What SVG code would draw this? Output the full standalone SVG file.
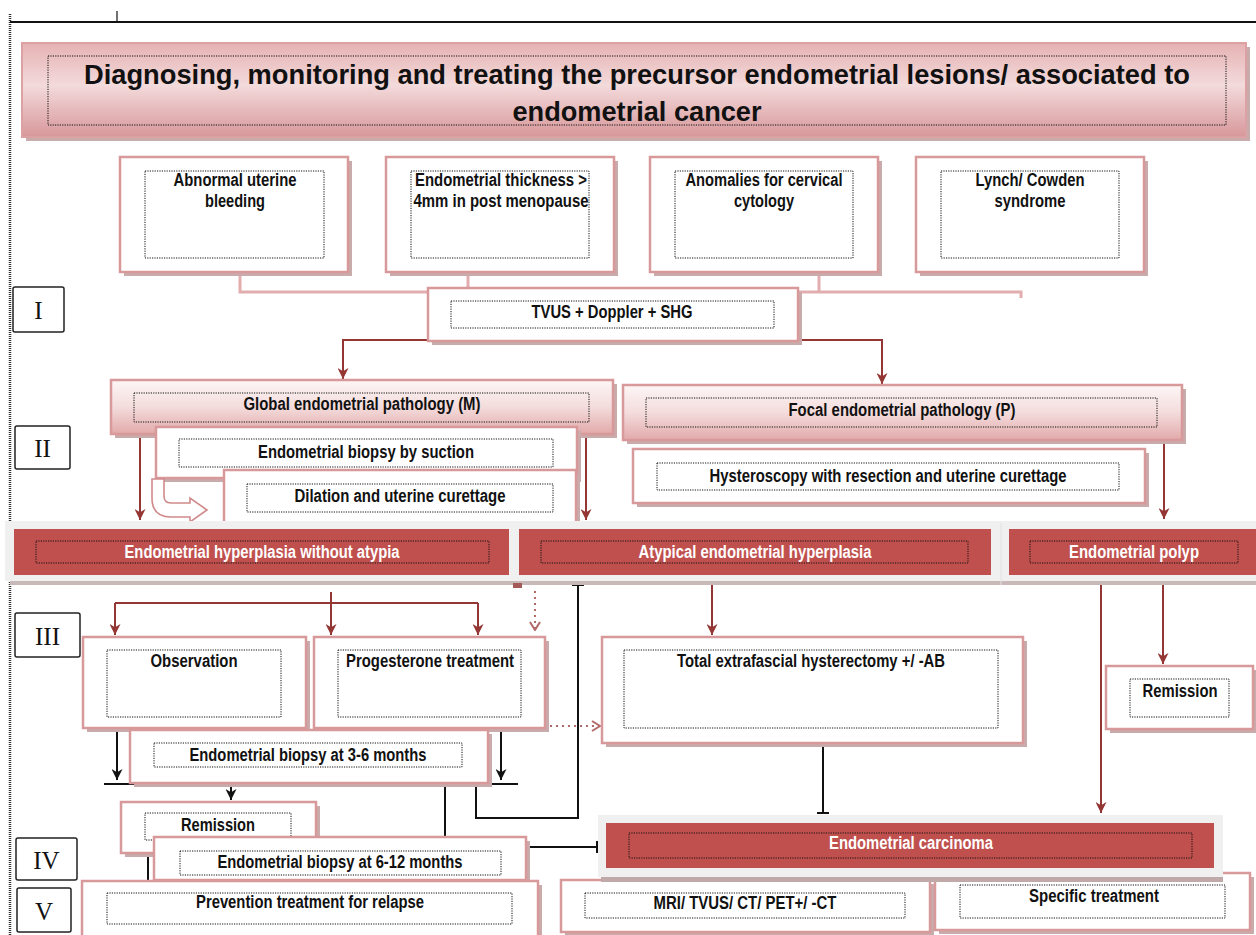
<svg xmlns="http://www.w3.org/2000/svg" width="1256" height="935" viewBox="0 0 1256 935">
<style>
.t{font-family:"Liberation Sans",Arial,sans-serif;font-weight:bold;font-size:17.5px;text-anchor:middle;fill:#111}
.w{fill:#fff}
.title{font-size:28px}
.rn{font-family:"Liberation Serif","Times New Roman",serif;font-size:25px;text-anchor:middle;fill:#111}
.box{fill:#fff;stroke:#d8999a;stroke-width:2.5}
.sh{fill:#c9abab}
.dot{fill:none;stroke:#111;stroke-width:1;stroke-dasharray:1.2 1.2}
.red{fill:#c0504d}
.gb{fill:#f0f0f0}
.rb{fill:#fff;stroke:#222;stroke-width:1.5}
.pk{fill:none;stroke:#e2adae;stroke-width:3}
.mr{fill:none;stroke:#943634;stroke-width:2}
.bk{fill:none;stroke:#111;stroke-width:2}
.md{fill:none;stroke:#b26a69;stroke-width:2;stroke-dasharray:2 4}
</style>
<defs>
<linearGradient id="gT" x1="0" y1="0" x2="0" y2="1">
<stop offset="0" stop-color="#e6b2b3"/><stop offset="0.45" stop-color="#f3dadb"/><stop offset="1" stop-color="#d8979a"/>
</linearGradient>
<linearGradient id="gP" x1="0" y1="0" x2="0" y2="1">
<stop offset="0" stop-color="#fdf6f6"/><stop offset="0.5" stop-color="#f4dcdc"/><stop offset="1" stop-color="#e2a9aa"/>
</linearGradient>
<marker id="aM" viewBox="0 0 10 10" refX="10" refY="5" markerWidth="11" markerHeight="11" markerUnits="userSpaceOnUse" orient="auto"><path d="M0,0 L10,5 L0,10 L3,5 z" fill="#943634"/></marker>
<marker id="aK" viewBox="0 0 10 10" refX="10" refY="5" markerWidth="11" markerHeight="11" markerUnits="userSpaceOnUse" orient="auto"><path d="M0,0 L10,5 L0,10 L3,5 z" fill="#111"/></marker>
<marker id="tK" viewBox="0 0 2 12" refX="1" refY="6" markerWidth="2" markerHeight="12" markerUnits="userSpaceOnUse" orient="auto"><path d="M1,0 V12" stroke="#111" stroke-width="2"/></marker>
<marker id="cM" viewBox="0 0 10 12" refX="9" refY="6" markerWidth="10" markerHeight="12" markerUnits="userSpaceOnUse" orient="auto"><path d="M1,1 L9,6 L1,11" fill="none" stroke="#b26a69" stroke-width="2"/></marker>
</defs>
<rect width="1256" height="935" fill="#fff"/>
<g id="frame">
<path d="M10,14 V935" stroke="#333" stroke-width="2.5" stroke-dasharray="1 1"/>
<path d="M10,22 H1256" stroke="#111" stroke-width="2"/>
<path d="M117,11 V22" stroke="#111" stroke-width="1.2"/>
</g>
<g id="connectors">
<path class="pk" d="M240,274 V292 H1021 V298"/>
<path class="pk" d="M468,274 V292"/>
<path class="pk" d="M819,274 V292"/>
<path class="mr" d="M428,340 H343 V379" marker-end="url(#aM)"/>
<path class="mr" d="M798,340 H882 V384" marker-end="url(#aM)"/>
<path class="mr" d="M140,437 V520" marker-end="url(#aM)"/>
<path class="mr" d="M586,437 V520" marker-end="url(#aM)"/>
<path class="mr" d="M1164,442 V519" marker-end="url(#aM)"/>
<path class="mr" d="M115,603 H478"/>
<path class="mr" d="M115,603 V635" marker-end="url(#aM)"/>
<path class="mr" d="M478,603 V635" marker-end="url(#aM)"/>
<path class="mr" d="M331,592 V635" marker-end="url(#aM)"/>
<path class="mr" d="M712,584 V635" marker-end="url(#aM)"/>
<path class="mr" d="M1163,584 V664" marker-end="url(#aM)"/>
<path class="mr" d="M1101,584 V813" marker-end="url(#aM)"/>
<path class="md" d="M535,591 V630" marker-end="url(#cM)"/>
<path class="md" d="M550,726 H600" marker-end="url(#cM)"/>
<path class="bk" d="M117,731 V780" marker-end="url(#aK)"/>
<path class="bk" d="M501,731 V780" marker-end="url(#aK)"/>
<path class="bk" d="M104,784 H518"/>
<path class="bk" d="M231,784 V800" marker-end="url(#aK)"/>
<path class="bk" d="M445,784 V838"/>
<path class="bk" d="M476,784 V818 H578 V585" marker-end="url(#tK)"/>
<path class="bk" d="M148,853 V882"/>
<path class="bk" d="M526,847 H597" marker-end="url(#tK)"/>
<path class="bk" d="M823,745 V813" marker-end="url(#tK)"/>
</g>
<g id="title">
<rect class="sh" x="26" y="47" width="1224" height="94"/>
<rect x="22" y="43" width="1224" height="94" fill="url(#gT)" stroke="#dca2a3" stroke-width="2"/>
<rect class="dot" x="48" y="56" width="1178" height="69"/>
<text class="t title" x="637" y="84" textLength="1106" lengthAdjust="spacingAndGlyphs">Diagnosing, monitoring and treating the precursor endometrial lesions/ associated to</text>
<text class="t title" x="637" y="121" textLength="249" lengthAdjust="spacingAndGlyphs">endometrial cancer</text>
</g>
<g id="rn-I"><rect class="rb" x="13" y="287" width="51" height="45" rx="2"/><text class="rn" x="38.5" y="319">I</text></g>
<g id="rn-II"><rect class="rb" x="15" y="426" width="55" height="43" rx="2"/><text class="rn" x="42.5" y="457">II</text></g>
<g id="rn-III"><rect class="rb" x="15" y="613" width="65" height="44" rx="2"/><text class="rn" x="47.5" y="645">III</text></g>
<g id="rn-IV"><rect class="rb" x="16" y="838" width="61" height="42" rx="2"/><text class="rn" x="46.5" y="869">IV</text></g>
<g id="rn-V"><rect class="rb" x="17" y="888" width="54" height="44" rx="2"/><text class="rn" x="44" y="920">V</text></g>
<g id="abnormal">
<rect class="sh" x="124" y="161" width="228" height="115"/><rect class="box" x="120" y="157" width="228" height="115"/>
<rect class="dot" x="145" y="171" width="179" height="87"/>
<text class="t" x="235" y="186" textLength="123" lengthAdjust="spacingAndGlyphs">Abnormal uterine</text>
<text class="t" x="235" y="207" textLength="60" lengthAdjust="spacingAndGlyphs">bleeding</text>
</g>
<g id="thickness">
<rect class="sh" x="390" y="161" width="228" height="115"/><rect class="box" x="386" y="157" width="228" height="115"/>
<rect class="dot" x="411" y="171" width="178" height="87"/>
<text class="t" x="501" y="186" textLength="172" lengthAdjust="spacingAndGlyphs">Endometrial thickness &gt;</text>
<text class="t" x="501" y="207" textLength="175" lengthAdjust="spacingAndGlyphs">4mm in post menopause</text>
</g>
<g id="cytology">
<rect class="sh" x="654" y="161" width="228" height="115"/><rect class="box" x="650" y="157" width="228" height="115"/>
<rect class="dot" x="675" y="171" width="178" height="87"/>
<text class="t" x="764" y="186" textLength="157" lengthAdjust="spacingAndGlyphs">Anomalies for cervical</text>
<text class="t" x="764" y="207" textLength="60" lengthAdjust="spacingAndGlyphs">cytology</text>
</g>
<g id="lynch">
<rect class="sh" x="920" y="161" width="228" height="115"/><rect class="box" x="916" y="157" width="228" height="115"/>
<rect class="dot" x="941" y="171" width="178" height="87"/>
<text class="t" x="1030" y="186" textLength="109" lengthAdjust="spacingAndGlyphs">Lynch/ Cowden</text>
<text class="t" x="1030" y="207" textLength="71" lengthAdjust="spacingAndGlyphs">syndrome</text>
</g>
<g id="tvus">
<rect class="sh" x="432" y="292" width="370" height="53"/><rect class="box" x="428" y="288" width="370" height="53"/>
<rect class="dot" x="451" y="301" width="323" height="27"/>
<text class="t" x="612" y="318" textLength="161" lengthAdjust="spacingAndGlyphs">TVUS + Doppler + SHG</text>
</g>
<g id="global">
<rect class="sh" x="115" y="384" width="502" height="54"/>
<rect x="111" y="380" width="502" height="54" fill="url(#gP)" stroke="#d8999a" stroke-width="2.5"/>
<rect class="dot" x="134" y="393" width="455" height="29"/>
<text class="t" x="362" y="410" textLength="237" lengthAdjust="spacingAndGlyphs">Global endometrial pathology (M)</text>
</g>
<g id="suction">
<rect class="sh" x="160" y="431" width="421" height="51"/><rect class="box" x="156" y="427" width="421" height="51"/>
<rect class="dot" x="179" y="439" width="374" height="28"/>
<text class="t" x="366" y="458" textLength="216" lengthAdjust="spacingAndGlyphs">Endometrial biopsy by suction</text>
</g>
<g id="dilation">
<rect class="sh" x="228" y="474" width="352" height="60"/><rect class="box" x="224" y="470" width="352" height="60"/>
<rect class="dot" x="247" y="484" width="306" height="28"/>
<text class="t" x="400" y="502" textLength="211" lengthAdjust="spacingAndGlyphs">Dilation and uterine curettage</text>
<path d="M152,479 L152,498 Q152,517 171,517 L190,517 L190,522 L207,510 L190,498 L190,503 L171,503 Q164,503 164,496 L164,479 Z" fill="#fff" stroke="#d08a8b" stroke-width="1.6"/>
</g>
<g id="focal">
<rect class="sh" x="627" y="389" width="559" height="55"/>
<rect x="623" y="385" width="559" height="55" fill="url(#gP)" stroke="#d8999a" stroke-width="2.5"/>
<rect class="dot" x="646" y="398" width="511" height="29"/>
<text class="t" x="902" y="416" textLength="227" lengthAdjust="spacingAndGlyphs">Focal endometrial pathology (P)</text>
</g>
<g id="hysteroscopy">
<rect class="sh" x="637" y="453" width="512" height="54"/><rect class="box" x="633" y="449" width="512" height="54"/>
<rect class="dot" x="657" y="463" width="462" height="27"/>
<text class="t" x="888" y="482" textLength="357" lengthAdjust="spacingAndGlyphs">Hysteroscopy with resection and uterine curettage</text>
</g>
<g id="band">
<rect x="10" y="579" width="1246" height="6" fill="#c9b8b8"/>
<rect class="gb" x="5" y="521" width="1251" height="60"/>
<path d="M1001,523 V585" stroke="#e2e2e2" stroke-width="1"/>
<rect x="513" y="583" width="9" height="5" fill="#a55a5a"/>
</g>
<g id="hyperplasia">
<rect class="red" x="14" y="529" width="495" height="46"/>
<rect class="dot" x="36" y="541" width="453" height="22"/>
<text class="t w" x="262" y="558" textLength="275" lengthAdjust="spacingAndGlyphs">Endometrial hyperplasia without atypia</text>
</g>
<g id="atypical">
<rect class="red" x="519" y="529" width="472" height="46"/>
<rect class="dot" x="541" y="541" width="427" height="22"/>
<text class="t w" x="755" y="558" textLength="233" lengthAdjust="spacingAndGlyphs">Atypical endometrial hyperplasia</text>
</g>
<g id="polyp">
<rect class="red" x="1009" y="529" width="247" height="46"/>
<rect class="dot" x="1030" y="541" width="208" height="22"/>
<text class="t w" x="1134" y="558" textLength="130" lengthAdjust="spacingAndGlyphs">Endometrial polyp</text>
</g>
<g id="observation">
<rect class="sh" x="87" y="641" width="223" height="91"/><rect class="box" x="83" y="637" width="223" height="91"/>
<rect class="dot" x="107" y="650" width="174" height="67"/>
<text class="t" x="194" y="667" textLength="87" lengthAdjust="spacingAndGlyphs">Observation</text>
</g>
<g id="progesterone">
<rect class="sh" x="318" y="641" width="231" height="91"/><rect class="box" x="314" y="637" width="231" height="91"/>
<rect class="dot" x="338" y="650" width="183" height="67"/>
<text class="t" x="430" y="667" textLength="168" lengthAdjust="spacingAndGlyphs">Progesterone treatment</text>
</g>
<g id="biopsy36">
<rect class="sh" x="134" y="734" width="358" height="53"/><rect class="box" x="130" y="730" width="358" height="53"/>
<rect class="dot" x="154" y="743" width="308" height="24"/>
<text class="t" x="308" y="761" textLength="237" lengthAdjust="spacingAndGlyphs">Endometrial biopsy at 3-6 months</text>
</g>
<g id="hysterectomy">
<rect class="sh" x="606" y="641" width="421" height="106"/><rect class="box" x="602" y="637" width="421" height="106"/>
<rect class="dot" x="624" y="650" width="374" height="78"/>
<text class="t" x="811" y="667" textLength="268" lengthAdjust="spacingAndGlyphs">Total extrafascial hysterectomy +/ -AB</text>
</g>
<g id="remission-right">
<rect class="sh" x="1110" y="670" width="147" height="63"/><rect class="box" x="1106" y="666" width="147" height="63"/>
<rect class="dot" x="1130" y="679" width="99" height="38"/>
<text class="t" x="1180" y="697" textLength="75" lengthAdjust="spacingAndGlyphs">Remission</text>
</g>
<g id="remission-left">
<rect class="sh" x="125" y="806" width="195" height="51"/><rect class="box" x="121" y="802" width="195" height="51"/>
<rect class="dot" x="145" y="813" width="146" height="27"/>
<text class="t" x="218" y="831" textLength="74" lengthAdjust="spacingAndGlyphs">Remission</text>
</g>
<g id="biopsy612">
<rect class="sh" x="158" y="841" width="372" height="43"/><rect class="box" x="154" y="837" width="372" height="43"/>
<rect class="dot" x="180" y="851" width="321" height="24"/>
<text class="t" x="340" y="868" textLength="245" lengthAdjust="spacingAndGlyphs">Endometrial biopsy at 6-12 months</text>
</g>
<g id="prevention">
<rect class="sh" x="86" y="885" width="456" height="60"/><rect class="box" x="82" y="881" width="456" height="60"/>
<rect class="dot" x="107" y="893" width="405" height="31"/>
<text class="t" x="310" y="908" textLength="228" lengthAdjust="spacingAndGlyphs">Prevention treatment for relapse</text>
</g>
<g id="imaging">
<rect class="sh" x="565" y="884" width="369" height="52"/><rect class="box" x="561" y="880" width="369" height="52"/>
<rect class="dot" x="585" y="893" width="320" height="25"/>
<text class="t" x="745" y="909" textLength="183" lengthAdjust="spacingAndGlyphs">MRI/ TVUS/ CT/ PET+/ -CT</text>
</g>
<g id="specific">
<rect class="sh" x="939" y="877" width="315" height="57"/><rect class="box" x="935" y="873" width="315" height="57"/>
<rect class="dot" x="960" y="885" width="265" height="33"/>
<text class="t" x="1094" y="902" textLength="130" lengthAdjust="spacingAndGlyphs">Specific treatment</text>
</g>
<g id="carcinoma">
<rect x="601" y="876" width="622" height="6" fill="#bfa9a9"/>
<rect class="gb" x="598" y="815" width="625" height="62"/>
<rect class="red" x="606" y="823" width="608" height="45"/>
<rect class="dot" x="629" y="833" width="563" height="25"/>
<text class="t w" x="911" y="849" textLength="164" lengthAdjust="spacingAndGlyphs">Endometrial carcinoma</text>
</g>
</svg>
